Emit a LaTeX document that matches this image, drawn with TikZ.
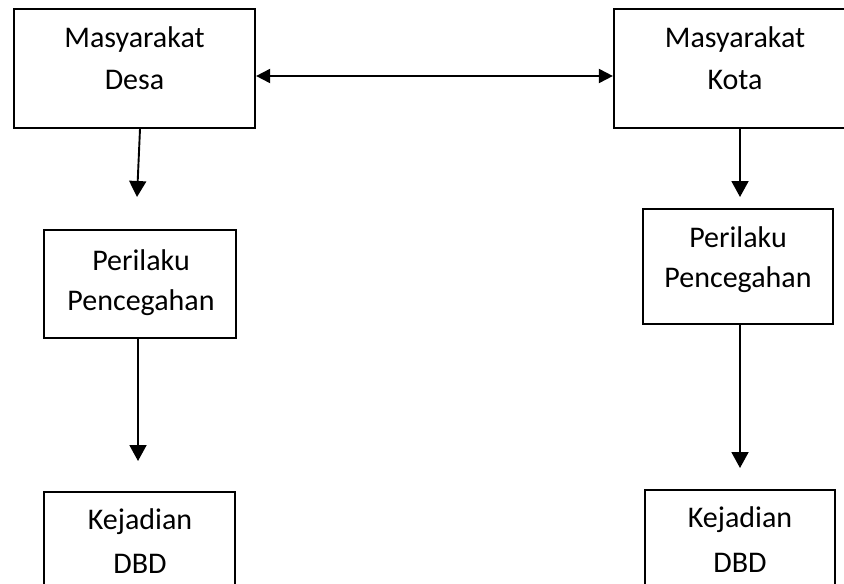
\documentclass[tikz,border=0pt]{standalone}
\usepackage{fontspec}
\setmainfont{Carlito}
\usetikzlibrary{arrows.meta,calc}
\begin{document}
\begin{tikzpicture}[x=1pt,y=-1pt,
  boxnode/.style={draw=black,line width=2.2pt,inner sep=0pt,fill=none},
  lbl/.style={anchor=base,inner sep=0pt,font=\fontsize{30}{36}\selectfont},
  downarrow/.style={line width=1.9pt,-{Triangle[length=16pt,width=17pt]}},
  bothway/.style={line width=1.9pt,{Triangle[length=14pt,width=14pt]}-{Triangle[length=14pt,width=14pt]}}]
\useasboundingbox (0,0) rectangle (844,584);
\clip (0,0) rectangle (844,584);
\fill[white] (0,0) rectangle (844,584);
% boxes
\node[boxnode,minimum width=241pt,minimum height=119pt] (desa) at (134.5,68.5) {};
\node[boxnode,minimum width=242pt,minimum height=119pt] (kota) at (735,68.5) {};
\node[boxnode,minimum width=192pt,minimum height=108pt] (perL) at (140,284) {};
\node[boxnode,minimum width=190pt,minimum height=115pt] (perR) at (738,266.5) {};
\node[boxnode,minimum width=191pt,minimum height=118pt] (kejL) at (139.5,551) {};
\node[boxnode,minimum width=190pt,minimum height=120pt] (kejR) at (740,550) {};
% texts
\node[lbl] (t1) at (134.5,47) {Masyarakat};
\node[lbl] (t2) at (134.5,89) {Desa};
\node[lbl] (t3) at (735,47) {Masyarakat};
\node[lbl] (t4) at (735,89) {Kota};
\node[lbl] (t5) at (141,270) {Perilaku};
\node[lbl] (t6) at (141,310) {Pencegahan};
\node[lbl] (t7) at (738,247) {Perilaku};
\node[lbl] (t8) at (738,287) {Pencegahan};
\node[lbl] (t9) at (140,529) {Kejadian};
\node[lbl] (t10) at (140,573) {DBD};
\node[lbl] (t11) at (740,527) {Kejadian};
\node[lbl] (t12) at (740,572) {DBD};
% free ends of the arrows
\coordinate (e1) at (137,197);
\coordinate (e2) at (138,461);
\coordinate (e3) at (740,197);
\coordinate (e4) at (740,468);
% connectors
\draw[bothway] ([yshift=-7.5pt]desa.east) -- ([yshift=-7.5pt]kota.west);
\draw[downarrow] ([xshift=5.5pt]desa.south) -- (e1);
\draw[downarrow] ([xshift=-2pt]perL.south) -- (e2);
\draw[downarrow] ([xshift=5pt]kota.south) -- (e3);
\draw[downarrow] ([xshift=2pt]perR.south) -- (e4);
\end{tikzpicture}
\end{document}
